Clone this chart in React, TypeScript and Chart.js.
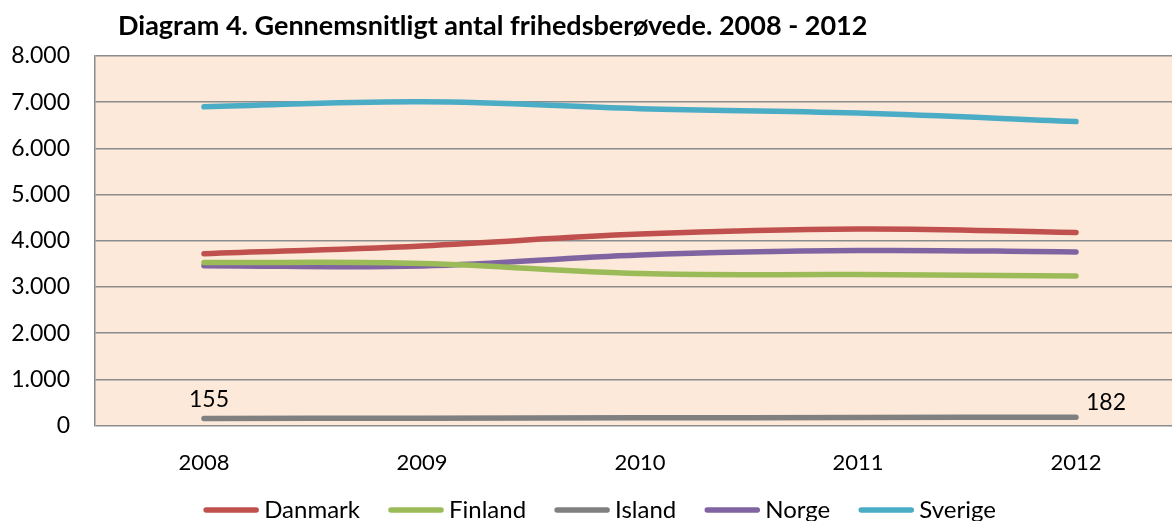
import React, { useEffect, useRef } from "react";
import { Chart, registerables } from "chart.js";

Chart.register(...registerables);

const TITLE = "Diagram 4. Gennemsnitligt antal frihedsberøvede. 2008 - 2012";
const CATEGORIES = ["2008", "2009", "2010", "2011", "2012"];
const DANMARK = [3720, 3890, 4145, 4255, 4180];
const FINLAND = [3530, 3510, 3290, 3268, 3238];
const ISLAND = [155, 160, 168, 175, 182];
const NORGE = [3462, 3455, 3695, 3790, 3760];
const SVERIGE = [6900, 7010, 6860, 6765, 6580];
const SERIES_NAMES = ["Danmark", "Finland", "Island", "Norge", "Sverige"];
const SERIES_COLORS = ["#C0504D", "#9BBB59", "#808080", "#8064A2", "#4BACC6"];
const Y_MIN = 0;
const Y_MAX = 8000;
const Y_STEP = 1000;

const FONT = "Lato, 'Noto Sans', sans-serif";

function fmtThousands(v: number): string {
  return Math.round(v).toString().replace(/\B(?=(\d{3})+(?!\d))/g, ".");
}

const plotBgPlugin = {
  id: "plotBg",
  beforeDraw(chart: any) {
    const { ctx, chartArea } = chart;
    ctx.save();
    ctx.fillStyle = "#FDE9D9";
    ctx.fillRect(chartArea.left, chartArea.top, chartArea.right - chartArea.left, chartArea.bottom - chartArea.top);
    ctx.restore();
  },
};

const titlePlugin = {
  id: "customTitle",
  afterDraw(chart: any) {
    const { ctx, chartArea } = chart;
    ctx.save();
    ctx.font = `bold 27px ${FONT}`;
    ctx.fillStyle = "#000";
    ctx.textAlign = "left";
    ctx.textBaseline = "middle";
    ctx.fillText(TITLE, chartArea.left + 23, 26);
    ctx.restore();
  },
};

const legendPlugin = {
  id: "customLegend",
  afterDraw(chart: any) {
    const { ctx } = chart;
    ctx.save();
    ctx.font = `24px ${FONT}`;
    const lineLen = 56;
    const gap = 5;
    const spacing = 28;
    const items = chart.data.datasets.map((ds: any) => ({
      label: ds.label as string,
      color: ds.borderColor as string,
      w: ctx.measureText(ds.label).width,
    }));
    const total = items.reduce((s: number, it: any) => s + lineLen + gap + it.w, 0) + spacing * (items.length - 1);
    let x = chart.width / 2 - total / 2 - 4;
    const y = 510;
    ctx.textBaseline = "middle";
    ctx.textAlign = "left";
    for (const it of items) {
      ctx.strokeStyle = it.color;
      ctx.lineWidth = 5.5;
      ctx.lineCap = "round";
      ctx.beginPath();
      ctx.moveTo(x + 3, y);
      ctx.lineTo(x + lineLen - 3, y);
      ctx.stroke();
      ctx.fillStyle = "#000";
      ctx.fillText(it.label, x + lineLen + gap, y);
      x += lineLen + gap + it.w + spacing;
    }
    ctx.restore();
  },
};

const dataLabelPlugin = {
  id: "islandLabels",
  afterDatasetsDraw(chart: any) {
    const { ctx } = chart;
    const meta = chart.getDatasetMeta(2);
    const first = meta.data[0];
    const last = meta.data[ISLAND.length - 1];
    ctx.save();
    ctx.font = `23px ${FONT}`;
    ctx.fillStyle = "#000";
    ctx.textBaseline = "middle";
    ctx.textAlign = "center";
    ctx.fillText(String(ISLAND[0]), first.x + 5, first.y - 19);
    ctx.textAlign = "left";
    ctx.fillText(String(ISLAND[ISLAND.length - 1]), last.x + 10, last.y - 15);
    ctx.restore();
  },
};

export default function App() {
  const canvasRef = useRef<HTMLCanvasElement | null>(null);

  useEffect(() => {
    if (!canvasRef.current) return;
    const values = [DANMARK, FINLAND, ISLAND, NORGE, SVERIGE];
    const chart = new Chart(canvasRef.current, {
      type: "line",
      data: {
        labels: CATEGORIES,
        datasets: SERIES_NAMES.map((name, i) => ({
          label: name,
          data: values[i],
          borderColor: SERIES_COLORS[i],
          backgroundColor: SERIES_COLORS[i],
          borderWidth: 5.5,
          borderCapStyle: "round" as const,
          borderJoinStyle: "round" as const,
          pointRadius: 0,
          pointHoverRadius: 0,
          tension: 0.4,
          fill: false,
        })),
      },
      options: {
        responsive: false,
        animation: false,
        devicePixelRatio: 1,
        layout: { padding: { top: 56, right: 22, bottom: 21, left: 0 } },
        plugins: {
          title: { display: false },
          tooltip: { enabled: false },
          legend: { display: false },
        },
        scales: {
          x: {
            offset: true,
            grid: { display: false, drawTicks: false },
            border: { display: false },
            ticks: { color: "#000", padding: 24, font: { family: FONT, size: 22 } },
          },
          y: {
            min: Y_MIN,
            max: Y_MAX,
            afterFit(scale: any) {
              scale.width = 95;
            },
            grid: { color: "#8C8C8C", lineWidth: 1.5, drawTicks: false },
            border: { display: true, color: "#8C8C8C", width: 1.5 },
            ticks: {
              stepSize: Y_STEP,
              color: "#000",
              padding: 25,
              font: { family: FONT, size: 23 },
              callback: (v: any) => fmtThousands(Number(v)),
            },
          },
        },
      },
      plugins: [plotBgPlugin, titlePlugin, legendPlugin, dataLabelPlugin],
    });
    return () => chart.destroy();
  }, []);

  return (
    <div style={{ position: "fixed", left: 0, top: 0, width: 1172, height: 521, overflow: "hidden", background: "#fff" }}>
      <canvas ref={canvasRef} width={1207} height={521} style={{ display: "block", width: 1207, height: 521 }} />
    </div>
  );
}
